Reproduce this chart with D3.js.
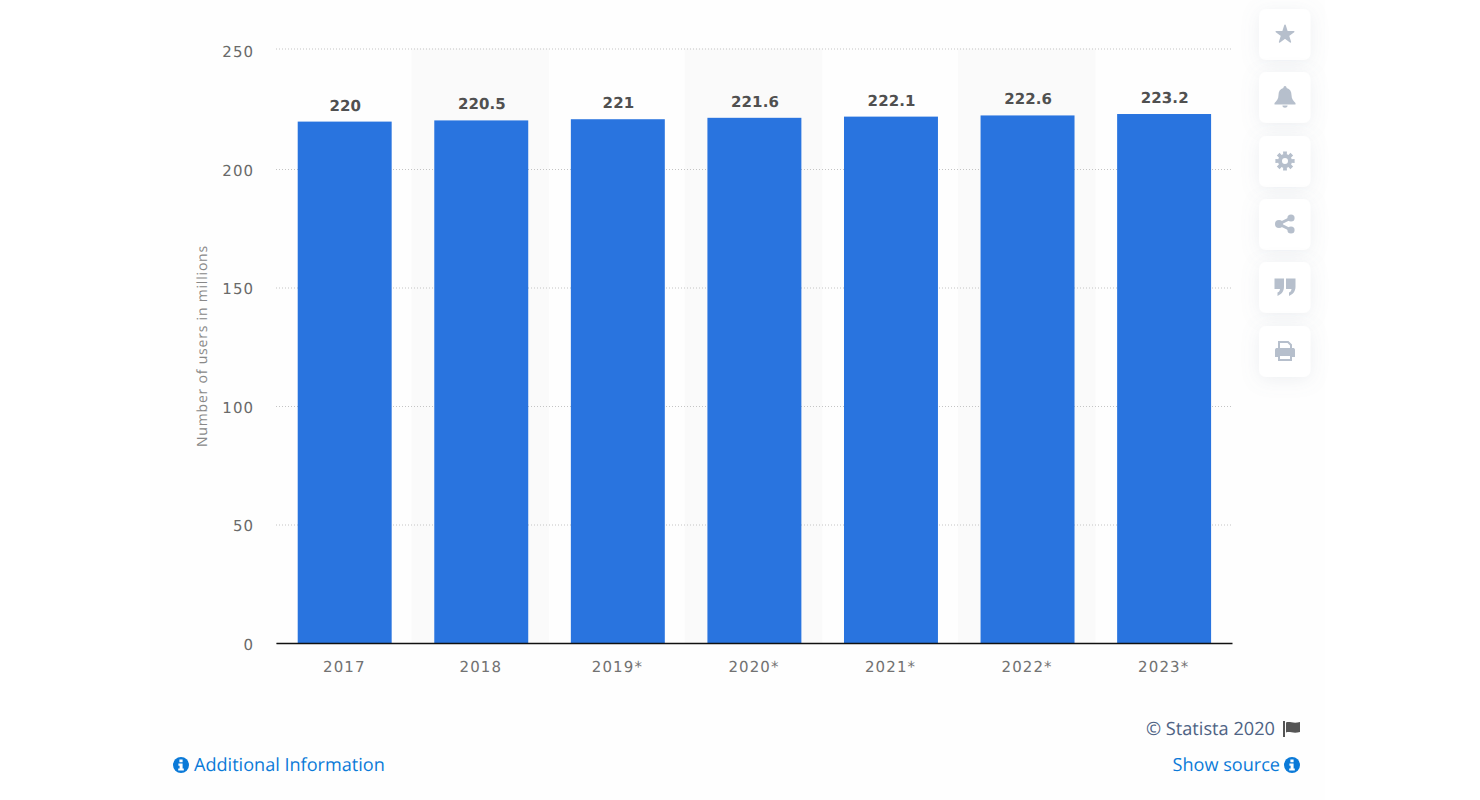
<!DOCTYPE html>
<html><head>
<meta charset="utf-8">
<title>Number of users in millions</title>
<script src="https://d3js.org/d3.v7.min.js"></script>
<style>
  html, body { margin: 0; padding: 0; background: #fff; }
  svg { display: block; font-family: "Open Sans", sans-serif; text-rendering: geometricPrecision; }
</style>
</head>
<body>
<svg id="chart" width="1480" height="800"></svg>
<script>
const years = ["2017", "2018", "2019*", "2020*", "2021*", "2022*", "2023*"];
const users = [220, 220.5, 221, 221.6, 222.1, 222.6, 223.2];
const valueLabels = ["220", "220.5", "221", "221.6", "222.1", "222.6", "223.2"];
const yTicks = [0, 50, 100, 150, 200, 250];

const svg = d3.select("#chart");
const margin = { top: 50.5, left: 276, right: 248, bottom: 157 };
const width = 1480, height = 800;
const tickFont = '"DejaVu Sans", sans-serif';

// panel behind everything, ends where the page column ends
svg.append("rect").attr("x", 150).attr("y", 0).attr("width", 1175).attr("height", height).attr("fill", "#fefefe");

const x = d3.scaleBand().domain(years).range([margin.left, width - margin.right]).padding(0);
const barInset = 0.156;
const y = d3.scaleLinear().domain([0, 250]).range([height - margin.bottom, margin.top]);
const plotTop = y(250) - 2; // top grid line sits a touch above its tick in the original

// alternate column stripes
svg.append("g").selectAll("rect").data(years.filter((d, i) => i % 2 == 1))
  .join("rect")
  .attr("x", d => x(d) - 1)
  .attr("y", plotTop)
  .attr("width", x.bandwidth() + 1)
  .attr("height", y(0) - plotTop)
  .attr("fill", "#fafafa");

// grid lines + y axis
const yAxis = d3.axisLeft(y).tickValues(yTicks).tickSize(-(width - margin.left - margin.right)).tickPadding(22);
const yG = svg.append("g").attr("transform", `translate(${margin.left},0)`).call(yAxis);
yG.select(".domain").remove();
yG.selectAll("line").attr("stroke", "#c4c4c4").attr("stroke-dasharray", "1,2")
  .attr("y1", d => d == 250 ? -2 : 0).attr("y2", d => d == 250 ? -2 : 0);
yG.selectAll("text")
  .attr("fill", "#6a6a6a").attr("font-size", 15).attr("letter-spacing", 1)
  .attr("font-family", tickFont).attr("dy", "0.42em").attr("x", -22);

// bars
svg.append("g").selectAll("rect").data(users)
  .join("rect")
  .attr("x", (d, i) => x(years[i]) + x.bandwidth() * barInset + 0.4)
  .attr("y", d => y(d))
  .attr("width", x.bandwidth() * (1 - 2 * barInset))
  .attr("height", d => y(0) - y(d))
  .attr("fill", "#2974df");

// value labels
svg.append("g").selectAll("text").data(users)
  .join("text")
  .attr("x", (d, i) => x(years[i]) + x.bandwidth() / 2 + 1)
  .attr("y", d => y(d) - 11)
  .attr("text-anchor", "middle")
  .attr("font-family", tickFont)
  .attr("font-size", 15).attr("font-weight", 700).attr("letter-spacing", 0.1)
  .attr("fill", "#505050")
  .text((d, i) => valueLabels[i]);

// x axis
const xAxis = d3.axisBottom(x).tickSize(0).tickPadding(18);
const xG = svg.append("g").attr("transform", `translate(0,${y(0)})`).call(xAxis);
xG.select(".domain").attr("stroke", "#111").attr("stroke-width", 1.4);
xG.selectAll("text")
  .attr("fill", "#727272").attr("font-size", 15).attr("letter-spacing", 1.1)
  .attr("font-family", tickFont);

// y axis title
svg.append("text")
  .attr("transform", "translate(207,346) rotate(-90)")
  .attr("text-anchor", "middle")
  .attr("font-size", 14).attr("letter-spacing", 0.8).attr("fill", "#888")
  .text("Number of users in millions");

// footer
svg.append("text").attr("x", 1275).attr("y", 735).attr("text-anchor", "end")
  .attr("font-size", 18.2).attr("fill", "#4e6384").text("\u00A9 Statista 2020");
svg.append("path")
  .attr("transform", "translate(1283,721)")
  .attr("d", "M0,0H2V16H0Z M3,1.5C7,0 10,3 17,1V11C10,13 7,10 3,11.5Z")
  .attr("fill", "#555");

const linkBlue = "#0b7ad8";
function infoIcon(cx, cy) {
  svg.append("circle").attr("cx", cx).attr("cy", cy).attr("r", 8).attr("fill", linkBlue);
  svg.append("path").attr("transform", `translate(${cx},${cy})`)
    .attr("d", "M-1.6,-5.4H1.6V-2.8H-1.6Z M-2.6,-1.4H1.6V3.4H2.8V5.6H-2.8V3.4H-1.4V0.8H-2.6Z")
    .attr("fill", "#fff");
}
infoIcon(181, 765);
svg.append("text").attr("x", 194).attr("y", 771).attr("font-size", 18.1).attr("fill", linkBlue).text("Additional Information");
svg.append("text").attr("x", 1280).attr("y", 771).attr("text-anchor", "end").attr("font-size", 18.1).attr("fill", linkBlue).text("Show source");
infoIcon(1292, 765);

// toolbar buttons on the right
const defs = svg.append("defs");
const shadow = defs.append("filter").attr("id", "soft").attr("x", "-60%").attr("y", "-60%").attr("width", "220%").attr("height", "220%");
shadow.append("feDropShadow").attr("dx", 0).attr("dy", 3).attr("stdDeviation", 9).attr("flood-color", "#8a94a6").attr("flood-opacity", 0.14);

const iconColor = "#b6bfcc";
const toolbarY = [9, 72, 136, 199, 262, 326];
const gearPath = d3.range(8).map(i => {
  const a = i * Math.PI / 4;
  return `M${9.8 * Math.cos(a - 0.2)},${9.8 * Math.sin(a - 0.2)}L${9.8 * Math.cos(a + 0.2)},${9.8 * Math.sin(a + 0.2)}L${6 * Math.cos(a + 0.3)},${6 * Math.sin(a + 0.3)}L${6 * Math.cos(a - 0.3)},${6 * Math.sin(a - 0.3)}Z`;
}).join("");
const toolbarIcons = [
  g => g.append("path").attr("d", d3.symbol(d3.symbolStar, 95)()).attr("transform", "translate(0,0.5)").attr("fill", iconColor).attr("stroke", iconColor).attr("stroke-width", 1.5).attr("stroke-linejoin", "round"),
  g => g.append("path").attr("d", "M0,-11C1.2,-11 1.6,-10 1.6,-9C5,-8 6.5,-5.5 6.5,-2C6.5,2 8.5,4 10.5,6V7.5H-10.5V6C-8.5,4 -6.5,2 -6.5,-2C-6.5,-5.5 -5,-8 -1.6,-9C-1.6,-10 -1.2,-11 0,-11Z M-2.6,8.5H2.6C2.6,11.5 -2.6,11.5 -2.6,8.5Z").attr("fill", iconColor),
  g => {
    g.append("path").attr("d", gearPath).attr("fill", iconColor);
    g.append("circle").attr("r", 5).attr("fill", "none").attr("stroke", iconColor).attr("stroke-width", 4);
  },
  g => {
    g.append("path").attr("d", "M6,-6L-6,0L6,6").attr("fill", "none").attr("stroke", iconColor).attr("stroke-width", 3);
    g.selectAll("circle.node").data([[6, -6, 3.6], [-6, 0, 4], [6, 6, 3.6]]).join("circle")
      .attr("cx", d => d[0]).attr("cy", d => d[1]).attr("r", d => d[2]).attr("fill", iconColor);
  },
  g => g.append("path").attr("d", "M-10.5,-8.5H-1V0C-1,4.5 -4,7.5 -7.5,9V5.5C-6,5 -5,3.5 -5,2H-10.5Z M1,-8.5H10.5V0C10.5,4.5 7.5,7.5 4,9V5.5C5.5,5 6.5,3.5 6.5,2H1Z").attr("fill", iconColor),
  g => {
    g.append("path").attr("d", "M-10,-1C-10,-2.5 -9,-3 -8,-3H8C9,-3 10,-2.5 10,-1V6H7V3H-7V6H-10Z").attr("fill", iconColor);
    g.append("path").attr("d", "M-6,-3V-9H3L6,-6V-3 M-6,4H6V9H-6Z").attr("fill", "none").attr("stroke", iconColor).attr("stroke-width", 2);
  }
];
toolbarY.forEach((top, i) => {
  const g = svg.append("g").attr("transform", `translate(1259,${top})`);
  g.append("rect").attr("width", 51.5).attr("height", 51).attr("rx", 7).attr("fill", "#fff").attr("filter", "url(#soft)");
  toolbarIcons[i](g.append("g").attr("transform", "translate(26,25)"));
});
</script>
</body>
</html>
